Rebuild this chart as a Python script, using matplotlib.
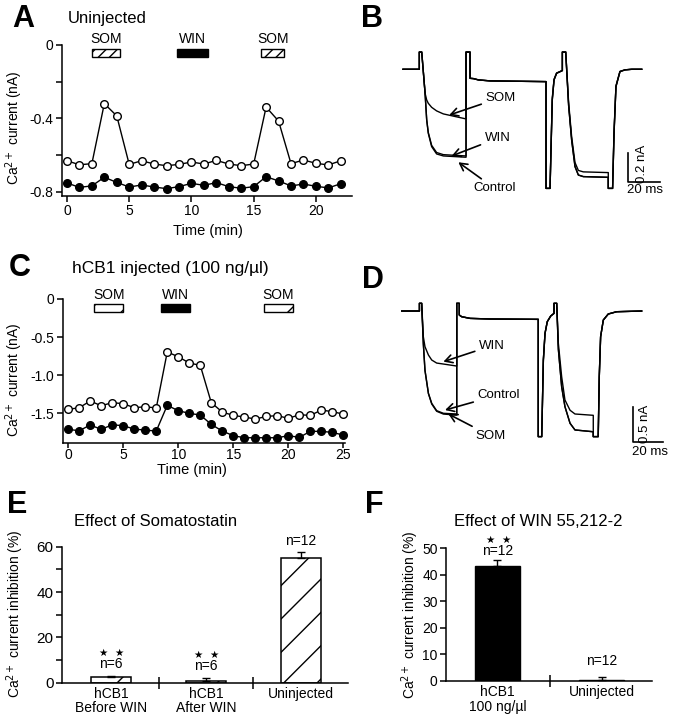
import matplotlib.pyplot as plt

plt.rcParams['font.family'] = ['Liberation Sans', 'DejaVu Sans']
plt.rcParams['axes.unicode_minus'] = False
plt.rcParams['hatch.linewidth'] = 1.0

W, H = 673, 719

# Panel A - uninjected oocyte, Ca2+ current vs time (min, nA)
a_time = list(range(23))
a_open = [-0.63, -0.652, -0.646, -0.319, -0.386, -0.65, -0.63, -0.648, -0.657, -0.65, -0.637, -0.648,
          -0.628, -0.648, -0.657, -0.648, -0.338, -0.414, -0.646, -0.626, -0.644, -0.653, -0.63]
a_filled = [-0.751, -0.775, -0.767, -0.72, -0.748, -0.773, -0.762, -0.773, -0.782, -0.771, -0.753, -0.764,
            -0.749, -0.771, -0.78, -0.771, -0.717, -0.74, -0.767, -0.757, -0.769, -0.778, -0.755]
a_drugs = ['SOM', 'WIN', 'SOM']
a_drug_on = [2.0, 8.85, 15.6]
a_drug_off = [4.3, 11.3, 17.45]

# Panel C - hCB1 injected
c_time = list(range(26))
c_open = [-1.448, -1.426, -1.338, -1.40, -1.36, -1.373, -1.426, -1.413, -1.43, -0.695, -0.757, -0.84, -0.87,
          -1.36, -1.483, -1.527, -1.548, -1.575, -1.54, -1.53, -1.566, -1.518, -1.527, -1.457, -1.478, -1.51]
c_filled = [-1.71, -1.728, -1.653, -1.71, -1.65, -1.662, -1.706, -1.72, -1.732, -1.395, -1.465, -1.50, -1.522,
            -1.645, -1.732, -1.793, -1.82, -1.82, -1.82, -1.82, -1.793, -1.815, -1.736, -1.736, -1.75, -1.785]
c_drugs = ['SOM', 'WIN', 'SOM']
c_drug_on = [2.36, 8.4, 17.8]
c_drug_off = [5.0, 11.1, 20.4]

# Panel B - current traces (ms, nA)
b_t = [0, 10.2, 10.2, 11.7, 13.8, 14.8, 15.8, 17.9, 21.0, 25.2, 39.4, 39.4, 41.9, 41.9, 44.0, 47.1, 54.4,
       89.4, 89.4, 91.9, 92.5, 93.3, 94.4, 96.0, 99.6, 99.6, 101.7, 103.5, 105.4, 107.5, 109.6, 112.7, 128.3,
       128.3, 131.0, 131.9, 133.1, 135.6, 138.8, 143.0, 149.2]
b_control = [0, 0, 0.12, 0.12, -0.167, -0.353, -0.446, -0.539, -0.590, -0.604, -0.613, 0.12, 0.12, -0.063,
             -0.065, -0.074, -0.081, -0.086, -0.83, -0.83, -0.562, -0.214, -0.074, -0.028, -0.009, 0.12, 0.12,
             -0.25, -0.493, -0.678, -0.737, -0.748, -0.753, -0.83, -0.83, -0.446, -0.121, -0.016, -0.004, 0, 0]
b_som = [0, 0, 0.12, 0.12, -0.167, -0.214, -0.237, -0.265, -0.29, -0.311, -0.346, 0.12, 0.12, -0.063,
         -0.065, -0.074, -0.081, -0.086, -0.83, -0.83, -0.55, -0.2, -0.07, -0.026, -0.009, 0.12, 0.12,
         -0.23, -0.47, -0.65, -0.705, -0.715, -0.72, -0.83, -0.83, -0.43, -0.115, -0.015, -0.004, 0, 0]
b_win = [0, 0, 0.12, 0.12, -0.167, -0.35, -0.44, -0.53, -0.58, -0.595, -0.604, 0.12, 0.12, -0.063,
         -0.065, -0.074, -0.081, -0.086, -0.83, -0.83, -0.562, -0.214, -0.074, -0.028, -0.009, 0.12, 0.12,
         -0.25, -0.493, -0.678, -0.737, -0.748, -0.753, -0.83, -0.83, -0.446, -0.121, -0.016, -0.004, 0, 0]

# Panel D - current traces (ms, nA)
d_t = [0, 11.8, 11.8, 13.3, 14.4, 15.5, 17.8, 20.0, 23.3, 27.8, 36.7, 36.7, 38.4, 38.4, 40.0, 45.6, 58.9,
       91.1, 91.1, 93.4, 94.5, 95.6, 97.1, 99.4, 101.6, 101.6, 103.4, 104.5, 106.7, 108.9, 112.3, 115.6, 127.8,
       127.8, 131.1, 131.8, 132.7, 134.5, 137.8, 143.4, 160.1]
d_control = [0, 0, 0.111, 0.111, -0.466, -0.85, -1.186, -1.33, -1.436, -1.474, -1.484, 0.111, 0.111, -0.058,
             -0.082, -0.106, -0.115, -0.12, -1.81, -1.81, -0.706, -0.322, -0.154, -0.072, -0.034, 0.111, 0.111,
             -0.55, -1.09, -1.378, -1.618, -1.714, -1.74, -1.81, -1.81, -0.946, -0.37, -0.13, -0.043, -0.01, 0]
d_som = [0, 0, 0.111, 0.111, -0.47, -0.86, -1.19, -1.34, -1.445, -1.485, -1.50, 0.111, 0.111, -0.058,
         -0.082, -0.106, -0.115, -0.12, -1.81, -1.81, -0.706, -0.322, -0.154, -0.072, -0.034, 0.111, 0.111,
         -0.55, -1.09, -1.378, -1.618, -1.714, -1.74, -1.81, -1.81, -0.946, -0.37, -0.13, -0.043, -0.01, 0]
d_win = [0, 0, 0.111, 0.111, -0.37, -0.514, -0.634, -0.706, -0.75, -0.764, -0.793, 0.111, 0.111, -0.058,
         -0.082, -0.106, -0.115, -0.12, -1.81, -1.81, -0.706, -0.322, -0.154, -0.072, -0.034, 0.111, 0.111,
         -0.466, -0.946, -1.282, -1.43, -1.484, -1.503, -1.81, -1.81, -0.946, -0.37, -0.13, -0.043, -0.01, 0]

# Panel E - effect of somatostatin (% inhibition)
e_labels = ['hCB1\nBefore WIN', 'hCB1\nAfter WIN', 'Uninjected']
e_values = [2.35, 0.9, 54.9]
e_errors = [0.55, 1.0, 2.6]
e_n = ['n=6', 'n=6', 'n=12']
e_signif = [True, True, False]

# Panel F - effect of WIN 55,212-2
f_labels = ['hCB1\n100 ng/\u00b5l', 'Uninjected']
f_values = [43.5, 0.3]
f_errors = [2.0, 1.2]
f_n = ['n=12', 'n=12']
f_signif = [True, False]

fig = plt.figure(figsize=(W / 100, H / 100), dpi=100)


def px_axes(x0, y0, x1, y1):
    return fig.add_axes([x0 / W, 1 - y1 / H, (x1 - x0) / W, (y1 - y0) / H])


def fig_text(x, y, s, **kw):
    fig.text(x / W, 1 - y / H, s, **kw)


def style_axes(ax, size=10):
    ax.spines['top'].set_visible(False)
    ax.spines['right'].set_visible(False)
    ax.spines['left'].set_linewidth(1.1)
    ax.spines['bottom'].set_linewidth(1.1)
    ax.tick_params(which='both', direction='out', width=1.1, labelsize=size, pad=2)
    ax.tick_params(which='major', length=4)
    ax.tick_params(which='minor', length=4)


def time_course(ax, t, y_open, y_filled, drugs, on, off, hatches, bar_y, bar_h, lab_y):
    ax.plot(t, y_open, '-o', color='black', lw=1, ms=5.5, mfc='white', mew=1, clip_on=False, zorder=3)
    ax.plot(t, y_filled, '-o', color='black', lw=1, ms=5.5, mfc='black', mew=1, clip_on=False, zorder=3)
    for name, s, e, h in zip(drugs, on, off, hatches):
        fc = 'black' if name == 'WIN' else 'white'
        ax.bar(s, bar_h, width=e - s, bottom=bar_y, align='edge', facecolor=fc,
               edgecolor='black', lw=1, hatch=h, clip_on=False)
        ax.text((s + e) / 2, lab_y, name, ha='center', va='center', fontsize=10, clip_on=False)


# ---- A ----
ax = px_axes(62, 45, 352, 196)
style_axes(ax)
time_course(ax, a_time, a_open, a_filled, a_drugs, a_drug_on, a_drug_off,
            ['///', None, '///'], -0.063, 0.039, 0.033)
ax.set_xlim(-0.4, 22.9)
ax.set_ylim(-0.822, 0)
ax.set_xticks([0, 5, 10, 15, 20])
ax.set_yticks([0, -0.4, -0.8])
ax.set_yticklabels(['0', '-0.4', '-0.8'])
ax.set_yticks([-0.2, -0.6], minor=True)

# ---- C ----
ax = px_axes(62.7, 299, 345, 442.7)
style_axes(ax)
ax.tick_params(axis='x', pad=0.5, length=3.5)
time_course(ax, c_time, c_open, c_filled, c_drugs, c_drug_on, c_drug_off,
            ['/', None, '/'], -0.171, 0.105, 0.052)
ax.set_xlim(-0.5, 25.15)
ax.set_ylim(-1.885, 0)
ax.set_xticks([0, 5, 10, 15, 20, 25])
ax.set_yticks([0, -0.5, -1.0, -1.5])
ax.set_yticklabels(['0', '-0.5', '-1.0', '-1.5'])

for y, lab in [(128, 'Ca$^{2+}$ current (nA)'), (380, 'Ca$^{2+}$ current (nA)')]:
    fig_text(14, y, lab, rotation=90, ha='center', va='center', fontsize=10)
fig_text(208, 231, 'Time (min)', ha='center', va='center', fontsize=10.5)
fig_text(192, 470, 'Time (min)', ha='center', va='center', fontsize=10.5)
fig_text(68, 19, 'Uninjected', ha='left', va='center', fontsize=12)
fig_text(72, 268, 'hCB1 injected (100 ng/\u00b5l)', ha='left', va='center', fontsize=12.5)


# ---- B / D traces ----
def traces(ax, t, series, labels, scale_x, scale_y, bar_pos, bar_lbl):
    for y in series:
        ax.plot(t, y, color='black', lw=1.0)
    for text, xy, xytext in labels:
        ax.annotate(text, xy=xy, xytext=xytext, ha='left', va='center', fontsize=9.5,
                    arrowprops=dict(arrowstyle='->,head_length=0.55,head_width=0.3', lw=1.2,
                                    shrinkA=1, shrinkB=0))
    bx, by = bar_pos
    ax.plot([bx, bx, bx + scale_x], [by, by - scale_y, by - scale_y], color='black', lw=1.2)
    ax.text(bar_lbl[0], bar_lbl[1], f'{scale_y:g} nA', rotation=90, ha='center', va='center', fontsize=9.5)
    ax.text(bar_lbl[2], bar_lbl[3], f'{scale_x:g} ms', ha='center', va='center', fontsize=9.5)
    ax.axis('off')


ax = px_axes(395, 40, 673, 200)
ax.set_xlim(-5, 168.75)
ax.set_ylim(-0.911, 0.204)
traces(ax, b_t, [b_control, b_som, b_win],
       [('SOM', (28.9, -0.319), (51.5, -0.198)),
        ('WIN', (30.4, -0.604), (51.0, -0.481)),
        ('Control', (34.6, -0.648), (44.0, -0.83))],
       20, 0.2, (140.9, -0.583), (149.5, -0.66, 151.5, -0.841))

ax = px_axes(395, 285, 673, 460)
ax.set_xlim(-4.5, 181)
ax.set_ylim(-2.147, 0.375)
traces(ax, d_t, [d_control, d_som, d_win],
       [('WIN', (27.8, -0.73), (51.5, -0.5)),
        ('Control', (28.9, -1.427), (50.5, -1.21)),
        ('SOM', (31.1, -1.484), (49.0, -1.797))],
       20, 0.5, (154.5, -1.383), (162.5, -1.62, 165.6, -2.03))


# ---- E / F bar charts ----
def bar_panel(ax, labels, values, errors, ns, signif, black, n_pad, size):
    x = list(range(len(values)))
    if black:
        ax.bar(x, values, width=0.43, color='black', edgecolor='black', lw=1)
    else:
        ax.bar(x, values, width=0.42, facecolor='white', edgecolor='black', lw=1.1, hatch='/')
    ax.errorbar(x, values, yerr=[[0] * len(x), errors], fmt='none', ecolor='black',
                elinewidth=1, capsize=3, capthick=1)
    for i in x:
        top = values[i] + errors[i]
        ax.annotate(ns[i], (i, top), xytext=(0, n_pad[i]), textcoords='offset pixels',
                    ha='center', va='bottom', fontsize=size, annotation_clip=False)
        if signif[i]:
            for dx in (-8, 8):
                ax.annotate('\u2605', (i, top), xytext=(dx, n_pad[i] + 13), textcoords='offset pixels',
                            ha='center', va='bottom', fontsize=7.5, family=['DejaVu Sans'],
                            annotation_clip=False)
    ax.set_xticks(x)
    ax.set_xticklabels(labels, fontsize=size, linespacing=1.05)
    ax.tick_params(axis='x', which='major', length=0, pad=3)
    ax.set_xticks([i + 0.5 for i in x[:-1]], minor=True)
    ax.tick_params(axis='x', which='minor', direction='inout', length=8)


ax = px_axes(62, 546.7, 348, 682.7)
style_axes(ax, 11)
bar_panel(ax, e_labels, e_values, e_errors, e_n, e_signif, False, [5, 5, 4], 10)
ax.set_xlim(-0.516, 2.495)
ax.set_ylim(0, 60)
ax.set_yticks([0, 20, 40, 60])
ax.set_yticks([10, 30, 50], minor=True)

ax = px_axes(446, 548.3, 651.7, 681)
style_axes(ax, 10)
bar_panel(ax, f_labels, f_values, f_errors, f_n, f_signif, True, [2, 9], 10)
ax.set_xlim(-0.494, 1.48)
ax.set_ylim(0, 50)
ax.set_yticks([0, 10, 20, 30, 40, 50])

fig_text(15, 614, 'Ca$^{2+}$ current inhibition (%)', rotation=90, ha='center', va='center', fontsize=10)
fig_text(410, 615, 'Ca$^{2+}$ current inhibition (%)', rotation=90, ha='center', va='center', fontsize=10)
fig_text(155.5, 522, 'Effect of Somatostatin', ha='center', va='center', fontsize=12)
fig_text(538, 522, 'Effect of WIN 55,212-2', ha='center', va='center', fontsize=12)

# panel letters
for letter, x, y in [('A', 23, 19), ('B', 372, 19), ('C', 20, 268),
                     ('D', 373, 280), ('E', 17, 505), ('F', 374, 505)]:
    fig_text(x, y, letter, ha='center', va='center', fontsize=22, fontweight='bold')

fig.savefig('out.png', dpi=100)
